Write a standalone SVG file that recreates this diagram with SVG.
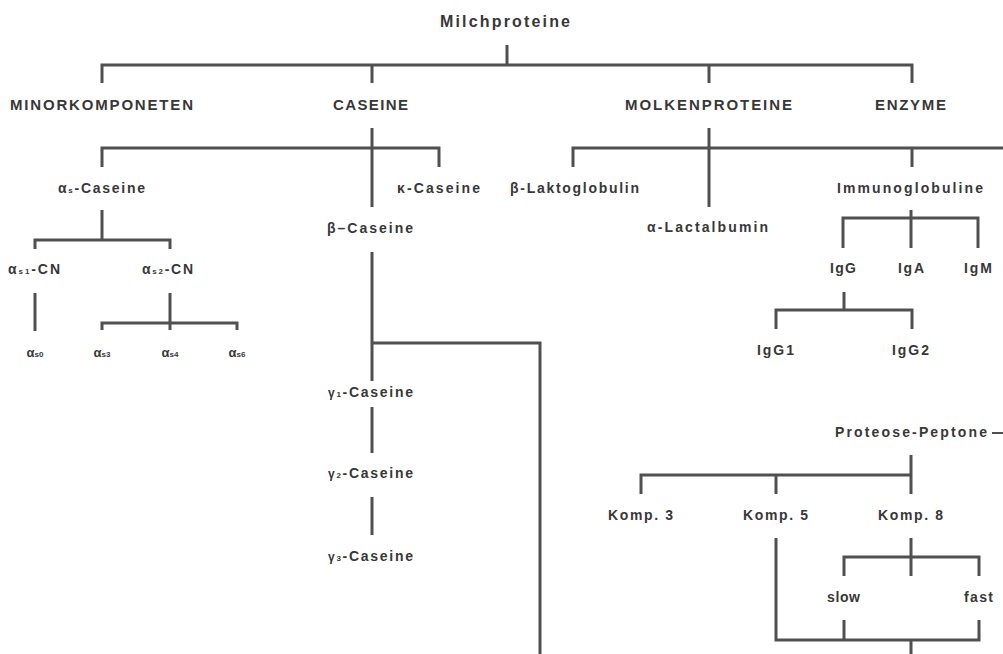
<svg xmlns="http://www.w3.org/2000/svg" width="1003" height="654" viewBox="0 0 1003 654">
<style>
  .ln { fill: none; stroke: #505050; stroke-width: 3; stroke-linejoin: miter; stroke-linecap: butt; }
  .t { font-family: "Liberation Sans", Arial, sans-serif; font-weight: bold; fill: #383838; font-size: 14px; }
  .h { font-size: 15px; }
  .top { font-size: 16px; }
  .sm { font-size: 13px; }
  .g { font-size: 12px; }
  .sub { font-size: 8px; }
  .m { text-anchor: middle; }
</style>
<rect width="1003" height="654" fill="#ffffff"/>
<g id="connectors">
  <path class="ln" d="M507 45V65 M102 83V65H912V83 M372 65V83 M709 65V83"/>
  <path class="ln" d="M372 128V207 M102 167V148H439V167"/>
  <path class="ln" d="M709 128V207 M573 167V148H1003 M912 148V167"/>
  <path class="ln" d="M102 210V240 M35 249V240H170V249"/>
  <path class="ln" d="M35 293V331"/>
  <path class="ln" d="M170 293V330 M102 330V323H237V330"/>
  <path class="ln" d="M372 252V381 M372 343H540V654"/>
  <path class="ln" d="M372 407V453 M372 497V535"/>
  <path class="ln" d="M911 210V248 M843 248V218H978V248"/>
  <path class="ln" d="M844 292V310 M776 329V310H912V329"/>
  <path class="ln" d="M992 433H1003" style="stroke-width:2"/>
  <path class="ln" d="M911 455V494 M641 494V475H911"/>
  <path class="ln" d="M776 475V494"/>
  <path class="ln" d="M776 538V640H979V620 M844 620V640 M911 640V654"/>
  <path class="ln" d="M911 538V576 M844 576V557H979V576"/>
</g>
<g id="n-milchproteine"><text class="t top" x="440" y="27" textLength="130" lengthAdjust="spacing">Milchproteine</text></g>
<g id="n-minorkomponeten"><text class="t h" x="10" y="110" textLength="183" lengthAdjust="spacing">MINORKOMPONETEN</text></g>
<g id="n-caseine"><text class="t h" x="333" y="110" textLength="75" lengthAdjust="spacing">CASEINE</text></g>
<g id="n-molkenproteine"><text class="t h" x="625" y="110" textLength="167" lengthAdjust="spacing">MOLKENPROTEINE</text></g>
<g id="n-enzyme"><text class="t h" x="875" y="110" textLength="71" lengthAdjust="spacing">ENZYME</text></g>
<g id="n-as-caseine"><text class="t" x="58" y="193" textLength="87" lengthAdjust="spacing">α<tspan class="sub">s</tspan>-Caseine</text></g>
<g id="n-k-caseine"><text class="t" x="397" y="193" textLength="83" lengthAdjust="spacing">κ-Caseine</text></g>
<g id="n-b-laktoglobulin"><text class="t" x="510" y="193" textLength="129" lengthAdjust="spacing">β-Laktoglobulin</text></g>
<g id="n-immunoglobuline"><text class="t" x="837" y="193" textLength="146" lengthAdjust="spacing">Immunoglobuline</text></g>
<g id="n-b-caseine"><text class="t" x="327" y="233" textLength="86" lengthAdjust="spacing">β–Caseine</text></g>
<g id="n-a-lactalbumin"><text class="t" x="647" y="232" textLength="121" lengthAdjust="spacing">α-Lactalbumin</text></g>
<g id="n-as1-cn"><text class="t" x="8" y="274" textLength="52" lengthAdjust="spacing">α<tspan class="sub">s1</tspan>-CN</text></g>
<g id="n-as2-cn"><text class="t" x="142" y="274" textLength="51" lengthAdjust="spacing">α<tspan class="sub">s2</tspan>-CN</text></g>
<g id="n-igg"><text class="t" x="830" y="273" textLength="26" lengthAdjust="spacing">IgG</text></g>
<g id="n-iga"><text class="t" x="898" y="273" textLength="26" lengthAdjust="spacing">IgA</text></g>
<g id="n-igm"><text class="t" x="964" y="273" textLength="28" lengthAdjust="spacing">IgM</text></g>
<g id="n-as0"><text class="t sm m" x="35" y="357">α<tspan class="sub">s0</tspan></text></g>
<g id="n-as3"><text class="t sm m" x="102" y="357">α<tspan class="sub">s3</tspan></text></g>
<g id="n-as4"><text class="t sm m" x="170" y="357">α<tspan class="sub">s4</tspan></text></g>
<g id="n-as6"><text class="t sm m" x="237" y="357">α<tspan class="sub">s6</tspan></text></g>
<g id="n-igg1"><text class="t" x="757" y="355" textLength="37" lengthAdjust="spacing">IgG1</text></g>
<g id="n-igg2"><text class="t" x="892" y="355" textLength="37" lengthAdjust="spacing">IgG2</text></g>
<g id="n-g1-caseine"><text class="t" x="328" y="397" textLength="85" lengthAdjust="spacing"><tspan class="g">γ</tspan><tspan class="sub">1</tspan>-Caseine</text></g>
<g id="n-g2-caseine"><text class="t" x="328" y="478" textLength="85" lengthAdjust="spacing"><tspan class="g">γ</tspan><tspan class="sub">2</tspan>-Caseine</text></g>
<g id="n-g3-caseine"><text class="t" x="328" y="561" textLength="85" lengthAdjust="spacing"><tspan class="g">γ</tspan><tspan class="sub">3</tspan>-Caseine</text></g>
<g id="n-proteose-peptone"><text class="t" x="835" y="437" textLength="152" lengthAdjust="spacing">Proteose-Peptone</text></g>
<g id="n-komp3"><text class="t" x="608" y="520" textLength="65" lengthAdjust="spacing">Komp. 3</text></g>
<g id="n-komp5"><text class="t" x="743" y="520" textLength="65" lengthAdjust="spacing">Komp. 5</text></g>
<g id="n-komp8"><text class="t" x="878" y="520" textLength="65" lengthAdjust="spacing">Komp. 8</text></g>
<g id="n-slow"><text class="t" x="827" y="602" textLength="33" lengthAdjust="spacing">slow</text></g>
<g id="n-fast"><text class="t" x="964" y="602" textLength="29" lengthAdjust="spacing">fast</text></g>
</svg>
